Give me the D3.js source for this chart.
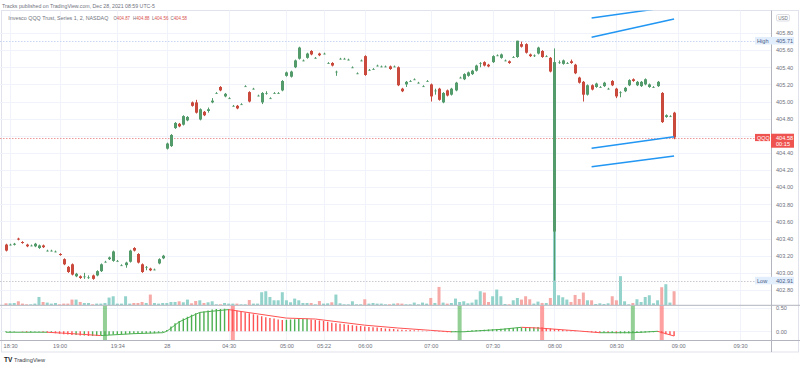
<!DOCTYPE html>
<html><head><meta charset="utf-8">
<script src="https://cdn.jsdelivr.net/npm/d3@7/dist/d3.min.js"></script>
<style>html,body{margin:0;padding:0;background:#fff;}svg{display:block;font-family:"Liberation Sans",Arial,sans-serif;}</style>
</head><body><svg id="c" width="800" height="368"></svg>
<script>
// ---------------- DATA ----------------
const timeIdx    = [1, 13, 27, 39, 54, 68, 77, 87, 103, 118, 133, 148, 163, 178];
const timeLabels = ["18:30","19:00","19:34","28","04:30","05:00","05:22","06:00","07:00","07:30","08:00","08:30","09:00","09:30"];

const open = [403.33,403.33,403.33,403.40,403.36,403.33,403.32,403.31,403.29,403.32,403.26,403.26,403.25,403.22,403.16,403.07,403.10,402.96,402.96,402.96,
402.95,402.97,402.97,403.02,403.13,403.16,403.14,403.14,403.09,403.09,403.13,403.29,403.22,403.10,403.07,403.05,403.04,403.11,403.17,
404.45,404.48,404.69,404.74,404.73,404.78,404.99,404.99,404.79,404.88,404.89,404.99,405.10,405.17,405.06,405.04,404.95,404.95,404.97,405.18,405.11,
405.15,405.07,404.99,405.10,405.04,405.10,405.10,405.13,405.30,405.29,405.40,405.50,405.48,405.51,405.59,405.51,405.56,405.56,405.45,405.45,
405.35,405.50,405.50,405.49,405.40,405.33,405.48,405.53,405.37,405.38,405.42,405.41,405.41,405.41,405.41,405.40,405.15,405.20,405.24,405.26,
405.22,405.18,405.24,405.20,405.13,405.15,404.99,405.13,405.08,405.13,405.28,405.26,405.30,405.32,405.36,405.45,405.46,405.43,405.46,405.54,
405.51,405.48,405.47,405.52,405.52,405.67,405.67,405.55,405.54,405.56,405.59,405.53,405.51,403.48,405.46,405.44,405.45,405.47,405.43,405.28,
405.23,405.08,405.19,405.17,405.17,405.18,405.15,405.24,405.15,405.11,405.12,405.19,405.26,405.19,405.18,405.20,405.17,405.17,405.18,405.10,
404.82,404.83,404.87];
const high = [403.34,403.34,403.35,403.41,403.37,403.34,403.33,403.35,403.33,403.33,403.27,403.27,403.26,403.23,403.17,403.08,403.11,403.00,402.97,403.00,
402.97,402.98,403.03,403.11,403.14,403.19,403.26,403.15,403.10,403.13,403.27,403.30,403.23,403.11,403.08,403.06,403.05,403.17,403.21,
404.52,404.62,404.76,404.75,404.84,404.83,405.00,405.02,404.92,404.89,404.93,405.04,405.11,405.18,405.10,405.05,404.96,404.96,404.98,405.19,405.12,
405.16,405.08,405.11,405.12,405.05,405.11,405.11,405.25,405.35,405.36,405.49,405.64,405.49,405.57,405.60,405.52,405.57,405.57,405.46,405.46,
405.36,405.51,405.51,405.50,405.41,405.34,405.49,405.54,405.38,405.39,405.43,405.42,405.42,405.42,405.42,405.41,405.16,405.24,405.25,405.27,
405.23,405.19,405.25,405.21,405.15,405.16,405.11,405.14,405.16,405.23,405.29,405.33,405.35,405.37,405.43,405.46,405.47,405.44,405.54,405.55,
405.56,405.49,405.48,405.53,405.71,405.70,405.68,405.56,405.55,405.64,405.60,405.54,405.52,405.62,405.48,405.49,405.46,405.49,405.44,405.29,
405.24,405.20,405.20,405.22,405.18,405.23,405.16,405.25,405.16,405.12,405.17,405.26,405.27,405.24,405.24,405.27,405.21,405.18,405.24,405.11,
404.85,404.84,404.88];
const low = [403.25,403.32,403.32,403.38,403.34,403.30,403.31,403.30,403.28,403.29,403.25,403.25,403.24,403.20,403.09,403.00,402.97,402.95,402.93,402.93,
402.93,402.92,402.96,403.01,403.12,403.15,403.13,403.13,403.08,403.06,403.12,403.25,403.11,403.00,403.03,403.02,403.03,403.10,403.16,
404.44,404.47,404.68,404.70,404.72,404.77,404.94,404.86,404.78,404.83,404.87,404.98,405.09,405.12,405.05,405.03,404.94,404.91,404.96,405.17,404.99,
405.14,405.06,404.97,405.08,405.03,405.09,405.09,405.12,405.29,405.28,405.39,405.49,405.47,405.50,405.54,405.50,405.53,405.55,405.44,405.41,
405.30,405.49,405.49,405.48,405.39,405.32,405.47,405.30,405.36,405.37,405.41,405.40,405.40,405.37,405.40,405.18,405.11,405.17,405.23,405.25,
405.21,405.17,405.23,405.00,405.08,405.01,404.98,405.06,405.07,405.12,405.27,405.25,405.29,405.31,405.35,405.40,405.41,405.40,405.45,405.53,
405.50,405.47,405.44,405.51,405.51,405.63,405.56,405.52,405.52,405.55,405.51,405.52,405.34,402.91,405.44,405.43,405.44,405.44,405.32,405.21,
405.00,405.07,405.13,405.16,405.16,405.17,405.14,405.18,405.04,405.05,405.11,405.18,405.23,405.18,405.17,405.19,405.16,405.16,405.17,404.75,
404.81,404.82,404.56];
const close = [403.26,403.33,403.34,403.39,403.35,403.31,403.32,403.34,403.32,403.30,403.26,403.26,403.25,403.21,403.10,403.01,402.98,402.99,402.94,402.96,
402.95,402.93,403.02,403.10,403.13,403.18,403.25,403.14,403.09,403.12,403.26,403.26,403.12,403.01,403.07,403.03,403.04,403.16,403.20,
404.51,404.61,404.75,404.71,404.83,404.82,404.95,404.87,404.91,404.84,404.91,405.01,405.10,405.13,405.09,405.04,404.95,404.92,404.97,405.18,405.00,
405.15,405.07,405.10,405.10,405.04,405.10,405.10,405.24,405.34,405.35,405.48,405.63,405.48,405.56,405.55,405.51,405.54,405.56,405.45,405.42,
405.35,405.50,405.50,405.49,405.40,405.33,405.48,405.31,405.37,405.38,405.42,405.41,405.41,405.38,405.41,405.19,405.12,405.23,405.24,405.26,
405.22,405.18,405.24,405.06,405.13,405.02,405.10,405.07,405.15,405.22,405.28,405.32,405.34,405.36,405.42,405.45,405.42,405.41,405.53,405.54,
405.55,405.48,405.45,405.52,405.71,405.64,405.57,405.53,405.54,405.63,405.52,405.53,405.35,405.46,405.46,405.48,405.45,405.45,405.33,405.22,
405.08,405.19,405.14,405.21,405.17,405.22,405.15,405.19,405.06,405.11,405.16,405.25,405.24,405.23,405.23,405.26,405.20,405.17,405.23,404.76,
404.84,404.83,404.58];
const volumeK = [20,20,23,40,17,10,10,17,83,33,27,17,23,10,17,17,57,57,33,23,23,10,17,17,23,77,90,17,17,90,17,23,23,33,23,107,23,17,23,
23,33,33,40,30,57,20,43,50,23,30,40,10,10,23,17,17,17,10,10,53,17,17,130,140,83,50,50,130,50,30,67,50,23,23,23,10,43,17,20,30,107,20,10,10,40,10,10,60,17,23,17,17,10,10,17,20,
17,10,10,27,10,27,17,73,23,183,27,17,23,67,33,40,20,27,57,140,127,33,90,157,90,13,10,50,73,57,90,60,17,37,23,23,73,730,100,80,57,33,103,63,127,50,50,13,20,13,20,90,50,290,40,10,23,60,33,83,100,20,50,180,210,27,140];
const oscHist = [-0.02,-0.02,-0.01,0.0,-0.01,-0.02,-0.02,-0.01,-0.01,-0.02,
-0.03,-0.03,-0.04,-0.05,-0.06,-0.07,-0.08,-0.08,-0.09,-0.09,-0.10,-0.10,-0.10,-0.09,-0.09,
-0.08,-0.07,-0.07,-0.06,-0.06,-0.05,-0.05,-0.05,-0.05,-0.04,-0.04,-0.04,-0.03,-0.02,
0.03,0.10,0.17,0.22,0.27,0.31,0.35,0.38,0.40,0.42,0.44,0.46,0.47,0.47,0.48,0.47,0.46,
0.44,0.42,0.40,0.38,0.36,0.34,0.32,0.30,0.28,0.27,0.25,0.24,
0.245,0.25,0.255,0.26,0.262,0.264,
0.25,0.24,0.23,0.22,0.20,0.18,0.17,0.16,0.15,0.14,0.13,0.12,0.11,0.10,0.09,0.085,0.08,0.07,0.06,0.055,0.05,0.04,
0.035,0.03,0.025,0.02,0.015,0.01,0.005,0,-0.005,-0.01,-0.015,-0.02,-0.02,-0.015,
0.0,0.005,0.01,0.02,0.025,0.03,0.035,0.04,0.045,0.05,0.055,0.06,0.065,0.07,0.075,0.08,0.08,0.085,0.085,0.09,
0.08,0.07,0.06,0.05,0.04,0.03,0.02,0.015,0.01,0.0,-0.01,-0.015,-0.02,-0.025,-0.03,-0.03,-0.035,-0.035,-0.04,-0.04,-0.04,-0.04,
-0.035,-0.03,-0.03,-0.025,-0.02,-0.02,-0.015,
-0.04,-0.06,-0.08,-0.10];
const sigIdx = [0,10,16,23,31,38,39,42,47,54,57,68,75,87,95,103,108,111,120,125,130,139,144,152,158,162];
const sigVal = [-0.02,-0.02,-0.05,-0.09,-0.05,-0.03,0.0,0.2,0.40,0.46,0.42,0.28,0.26,0.13,0.07,0.02,-0.01,-0.01,0.04,0.085,0.065,0.006,-0.03,-0.03,0.0,-0.1];
const buyIdx  = [24, 110, 152];
const sellIdx = [55, 130, 159];
const priceTicks = [405.8,405.6,405.4,405.2,405.0,404.8,404.4,404.2,404.0,403.8,403.6,403.4,403.2,403.0,402.8];
const gridPrices = [405.8,405.6,405.4,405.2,405.0,404.8,404.6,404.4,404.2,404.0,403.8,403.6,403.4,403.2,403.0,402.8];
const indTicks = [0.5, 0.0];
const trendI0 = [142,142,142,142];
const trendP0 = [405.975,405.75,404.454,404.24];
const trendI1 = [162,162,162,162];
const trendP1 = [406.11,405.963,404.59,404.364];
const lastPrice = 404.58, dayHigh = 405.71, dayLow = 402.91;

// ---------------- LAYOUT ----------------
const svg = d3.select("#c");
const plotR = 771, mainTop = 10.5, mainBot = 305.3, indBot = 340.5;
const x = d3.scaleLinear().domain([-1.45, 185.5]).range([0, plotR]);
const y = d3.scaleLinear().domain([402.8, 405.8]).range([290, 33]);
const vy = d3.scaleLinear().domain([0, d3.max(volumeK)]).range([mainBot, 232]);
const iy = d3.scaleLinear().domain([0, 0.5]).range([331.3, 307.7]);
const upC = "#539b6b", dnC = "#c9493d";
const volUp = "#93d3cc", volDn = "#f6aaa7";
const gridC = "#f0f3fa", txtC = "#6f727d";

const defs = svg.append("defs");
defs.append("clipPath").attr("id","cm").append("rect").attr("x",0).attr("y",mainTop).attr("width",plotR).attr("height",mainBot-mainTop);
defs.append("clipPath").attr("id","ci").append("rect").attr("x",0).attr("y",mainBot).attr("width",plotR).attr("height",indBot-mainBot);

svg.append("rect").attr("x",1.5).attr("y",mainTop).attr("width",797).attr("height",352-mainTop).attr("fill","none").attr("stroke","#e0e3eb");

const g = svg.append("g");
g.selectAll(".hg").data(gridPrices).join("line").attr("x1",0).attr("x2",plotR)
  .attr("y1",d=>Math.round(y(d))+0.5).attr("y2",d=>Math.round(y(d))+0.5).attr("stroke",gridC);
g.selectAll(".vg").data(timeIdx).join("line").attr("x1",d=>Math.round(x(d))+0.5).attr("x2",d=>Math.round(x(d))+0.5)
  .attr("y1",mainTop).attr("y2",indBot).attr("stroke",gridC);
g.selectAll(".ig").data(indTicks).join("line").attr("x1",0).attr("x2",plotR)
  .attr("y1",d=>Math.round(iy(d))+0.5).attr("y2",d=>Math.round(iy(d))+0.5).attr("stroke",gridC);

const idx = d3.range(open.length);
const main = svg.append("g").attr("clip-path","url(#cm)");
main.selectAll(".v").data(idx).join("rect")
  .attr("x",i=>x(i)-1.5).attr("width",3)
  .attr("y",i=>vy(volumeK[i])).attr("height",i=>mainBot-vy(volumeK[i]))
  .attr("fill",i=>close[i]>=open[i]?volUp:volDn);
[[dayHigh,"#c9d6f2"],[dayLow,"#c8cad2"],[lastPrice,"#ef9a9a"]].forEach(([p,c])=>{
  main.append("line").attr("x1",0).attr("x2",plotR).attr("y1",Math.round(y(p))+0.5).attr("y2",Math.round(y(p))+0.5)
    .attr("stroke",c).attr("stroke-dasharray","1.5,1.5");
});
const cg = main.selectAll(".c").data(idx).join("g");
cg.append("line").attr("x1",i=>Math.round(x(i))+0.5).attr("x2",i=>Math.round(x(i))+0.5)
  .attr("y1",i=>y(high[i])).attr("y2",i=>y(low[i]))
  .attr("stroke",i=>close[i]>=open[i]?upC:dnC).attr("stroke-width",1);
cg.append("rect").attr("x",i=>Math.round(x(i))-1).attr("width",3)
  .attr("y",i=>y(Math.max(open[i],close[i])))
  .attr("height",i=>Math.max(1,Math.abs(y(open[i])-y(close[i]))))
  .attr("fill",i=>close[i]>=open[i]?upC:dnC)
  .attr("opacity",i=>open[i]===close[i]?0.6:1);
main.selectAll(".t").data(d3.range(trendI0.length)).join("line")
  .attr("x1",k=>x(trendI0[k])).attr("y1",k=>y(trendP0[k]))
  .attr("x2",k=>x(trendI1[k])).attr("y2",k=>y(trendP1[k]))
  .attr("stroke","#2196f3").attr("stroke-width",1.5);

const ind = svg.append("g").attr("clip-path","url(#ci)");
ind.selectAll(".sb").data(buyIdx).join("rect").attr("x",i=>x(i)-2).attr("width",4)
  .attr("y",mainBot).attr("height",indBot-mainBot).attr("fill","rgba(76,175,80,0.6)");
ind.selectAll(".ss").data(sellIdx).join("rect").attr("x",i=>x(i)-2).attr("width",4)
  .attr("y",mainBot).attr("height",indBot-mainBot).attr("fill","rgba(255,82,82,0.55)");
ind.selectAll(".h").data(idx).join("line")
  .attr("x1",i=>x(i)).attr("x2",i=>x(i))
  .attr("y1",iy(0)).attr("y2",i=>iy(oscHist[i]))
  .attr("stroke",i=>(i===0||oscHist[i]>=oscHist[i-1])?"#4caf50":"#ff5252").attr("stroke-width",1.4);
for(let k=1;k<sigIdx.length;k++){
  ind.append("line").attr("x1",x(sigIdx[k-1])).attr("y1",iy(sigVal[k-1]))
    .attr("x2",x(sigIdx[k])).attr("y2",iy(sigVal[k]))
    .attr("stroke",sigVal[k]>=sigVal[k-1]?"#4caf50":"#ff5252").attr("stroke-width",1);
}

svg.append("line").attr("x1",0).attr("x2",800).attr("y1",mainBot).attr("y2",mainBot).attr("stroke","#b2b5be");
svg.append("line").attr("x1",0).attr("x2",800).attr("y1",indBot).attr("y2",indBot).attr("stroke","#b2b5be");
svg.append("line").attr("x1",plotR+0.5).attr("x2",plotR+0.5).attr("y1",mainTop).attr("y2",352).attr("stroke","#b2b5be");

function styleAxis(sel){ sel.select(".domain").remove(); sel.selectAll("text").attr("fill",txtC).style("font-size","5.6px").style("font-family","Liberation Sans, Arial, sans-serif"); }
svg.append("g").attr("transform",`translate(${plotR},0)`)
  .call(d3.axisRight(y).tickValues(priceTicks).tickFormat(d3.format(".2f")).tickSize(0).tickPadding(5)).call(styleAxis);
svg.append("g").attr("transform",`translate(${plotR},0)`)
  .call(d3.axisRight(iy).tickValues(indTicks).tickFormat(d3.format(".2f")).tickSize(0).tickPadding(5)).call(styleAxis);
svg.append("g").attr("transform",`translate(0,${indBot})`)
  .call(d3.axisBottom(x).tickValues(timeIdx).tickFormat((d,k)=>timeLabels[k]).tickSize(0).tickPadding(3.5)).call(styleAxis);

function tag(p,label,bg,fg){
  const yy=y(p);
  svg.append("rect").attr("x",755).attr("y",yy-3.8).attr("width",39).attr("height",7.6).attr("fill",bg);
  svg.append("text").attr("x",757).attr("y",yy+2).attr("fill",fg).style("font-size","5.6px").text(label);
  svg.append("text").attr("x",776).attr("y",yy+2).attr("fill",fg).style("font-size","5.6px").text(p.toFixed(2));
}
tag(dayHigh,"High","#e3eefc","#4a5d85");
tag(dayLow,"Low","#e3eefc","#4a5d85");
const ly=y(lastPrice);
svg.append("rect").attr("x",755).attr("y",ly-3.6).attr("width",15).attr("height",7.2).attr("fill","#ef5350");
svg.append("text").attr("x",757).attr("y",ly+2).attr("fill","#fff").style("font-size","5.4px").text("QQQ");
svg.append("rect").attr("x",771).attr("y",ly-3.8).attr("width",23).attr("height",14).attr("fill","#ef5350");
svg.append("text").attr("x",776).attr("y",ly+2).attr("fill","#fff").style("font-size","5.6px").text(lastPrice.toFixed(2));
svg.append("text").attr("x",776).attr("y",ly+8.6).attr("fill","#fff").style("font-size","5.6px").text("00:15");
svg.append("rect").attr("x",776.5).attr("y",14.5).attr("width",13).attr("height",6.5).attr("rx",1.5).attr("fill","#fff").attr("stroke","#c5c8d0").attr("stroke-width",0.6);
svg.append("text").attr("x",783).attr("y",19.6).attr("text-anchor","middle").attr("fill",txtC).style("font-size","4.6px").text("USD");

svg.append("text").attr("x",2).attr("y",8).attr("fill","#6f727d").style("font-size","5.8px")
  .attr("textLength",153).attr("lengthAdjust","spacingAndGlyphs").text("Tracks published on TradingView.com, Dec 28, 2021 08:59 UTC-5");
svg.append("text").attr("x",8.3).attr("y",19.6).attr("fill","#6f727d").style("font-size","5.6px")
  .attr("textLength",100).attr("lengthAdjust","spacingAndGlyphs").text("Invesco QQQ Trust, Series 1, 2, NASDAQ");
const ohlc=[["O",open[162],113.5],["H",high[162],133],["L",low[162],152],["C",close[162],170.5]];
ohlc.forEach(([k,v,px])=>{
  const t=svg.append("text").attr("x",px).attr("y",19.6).style("font-size","5.4px")
    .attr("textLength",16.5).attr("lengthAdjust","spacingAndGlyphs");
  t.append("tspan").attr("fill","#6f727d").text(k);
  t.append("tspan").attr("fill","#d9534f").text(v.toFixed(2));
});
svg.append("text").attr("x",4).attr("y",362).attr("fill","#131722").style("font-size","6.5px").style("font-weight","bold").text("TV");
svg.append("text").attr("x",14).attr("y",362).attr("fill","#3a3d47").style("font-size","6px")
  .attr("textLength",31).attr("lengthAdjust","spacingAndGlyphs").text("TradingView");
</script></body></html>
